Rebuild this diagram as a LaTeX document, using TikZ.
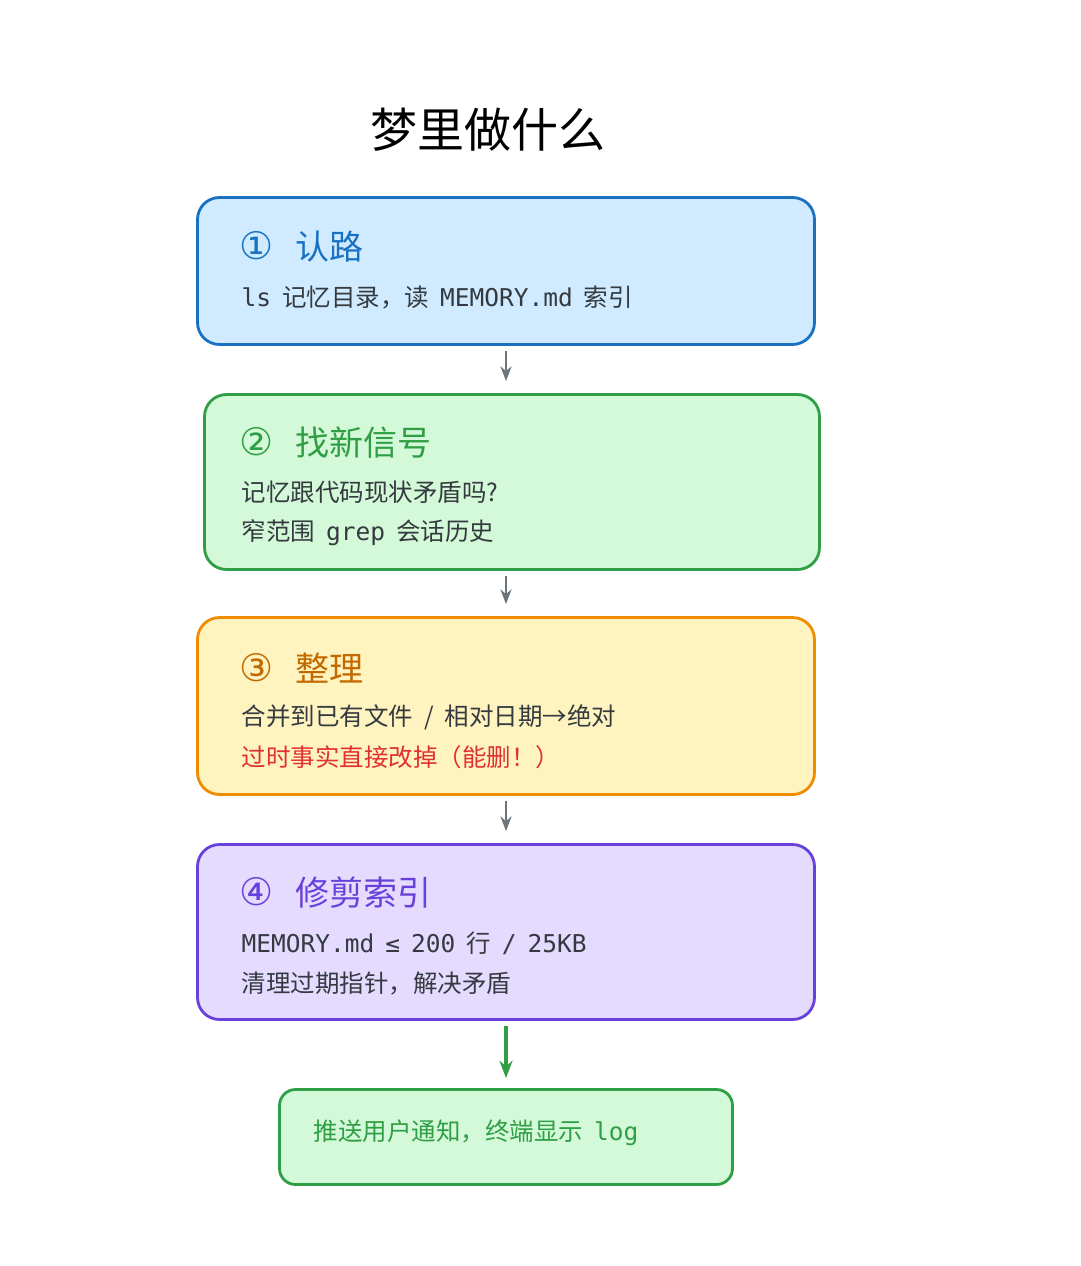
\documentclass[tikz,border=0pt]{standalone}
\usepackage{fontspec}
\setmainfont{Noto Sans CJK SC}
\newfontfamily\mono{DejaVu Sans Mono}
\newfontfamily\symb{DejaVu Sans}
\usetikzlibrary{arrows.meta, positioning}
\definecolor{bluefill}{HTML}{D0EBFF}
\definecolor{blueline}{HTML}{1971C2}
\definecolor{greenfill}{HTML}{D3F9D8}
\definecolor{greenline}{HTML}{2F9E44}
\definecolor{yellowfill}{HTML}{FFF3BF}
\definecolor{orangeline}{HTML}{F08C00}
\definecolor{orangetext}{HTML}{C26A00}
\definecolor{purplefill}{HTML}{E5DBFF}
\definecolor{purpleline}{HTML}{6741D9}
\definecolor{redtext}{HTML}{E03131}
\definecolor{textgray}{HTML}{343A40}
\definecolor{arrowgray}{HTML}{6C757D}
\newcommand{\gap}{\hspace{11pt}}
\newcommand{\stepno}[1]{{\symb\fontsize{38}{40}\selectfont #1}\hspace{22pt}}

\begin{document}
\begin{tikzpicture}[x=1pt, y=-1pt, >=Stealth,
    stage/.style={draw, line width=2.8pt, rounded corners=22pt, minimum width=617pt, minimum height=150pt},
    head/.style={anchor=west, font=\fontsize{34}{38}\selectfont},
    body/.style={anchor=west, font=\fontsize{24.5}{28}\selectfont, text=textgray},
    flow/.style={->, line width=2.6pt, draw=arrowgray, shorten <=5pt, shorten >=12pt}
]
\useasboundingbox (0,0) rectangle (1080,1266);

% Title
\node[font=\fontsize{47}{52}\selectfont, text=black] (title) at (488,130) {梦里做什么};

% Stages
\node[stage, fill=bluefill, draw=blueline, minimum height=147pt] (recon) at (506,271) {};
\node[stage, fill=greenfill, draw=greenline, minimum width=615pt, minimum height=175pt] (signal) at (512,482) {};
\node[stage, fill=yellowfill, draw=orangeline, minimum height=177pt] (tidy) at (506,706) {};
\node[stage, fill=purplefill, draw=purpleline, minimum height=175pt] (prune) at (506,932) {};
\node[stage, fill=greenfill, draw=greenline, minimum width=453pt, minimum height=95pt, rounded corners=16pt] (notify) at (506,1137) {};

% Texts
\node[head, text=blueline] (recon-h) at (236,247) {\stepno{①}认路};
\node[body] (recon-b) at (238,298) {{\mono ls}\gap 记忆目录，读\gap{\mono MEMORY.md}\gap 索引};

\node[head, text=greenline] (signal-h) at (236,443) {\stepno{②}找新信号};
\node[body] (signal-b1) at (238,492) {记忆跟代码现状矛盾吗?};
\node[body] (signal-b2) at (238,533) {窄范围\gap{\mono grep}\gap 会话历史};

\node[head, text=orangetext] (tidy-h) at (236,668) {\stepno{③}整理};
\node[body] (tidy-b1) at (238,717) {合并到已有文件\gap/\gap 相对日期→绝对};
\node[body, text=redtext] (tidy-b2) at (238,757) {过时事实直接改掉（能删！）};

\node[head, text=purpleline] (prune-h) at (236,893) {\stepno{④}修剪索引};
\node[body] (prune-b1) at (238,943) {{\mono MEMORY.md\gap ≤\gap 200}\gap 行\gap{\mono /\gap 25KB}};
\node[body] (prune-b2) at (238,983) {清理过期指针，解决矛盾};

\node[body, text=greenline] (notify-t) at (310,1133) {推送用户通知，终端显示\gap{\mono log}};

% Connections
\draw[flow] (recon) -- (recon.south |- signal.north);
\draw[flow] (signal.south -| tidy.north) -- (tidy);
\draw[flow] (tidy) -- (prune);
\draw[->, line width=3.2pt, draw=greenline, shorten <=5pt, shorten >=10pt] (prune) -- (notify);

\end{tikzpicture}
\end{document}
